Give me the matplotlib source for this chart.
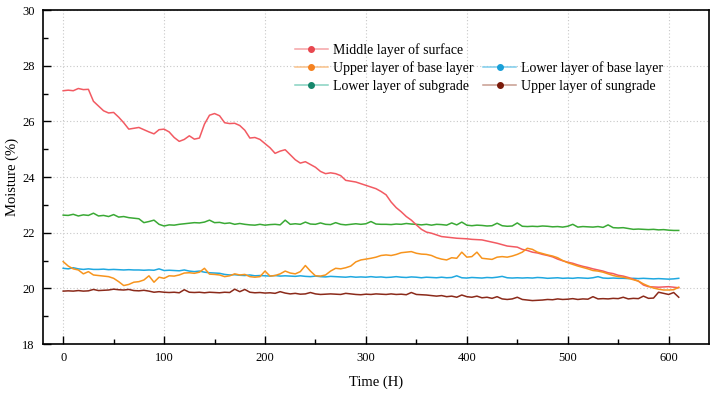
import matplotlib
matplotlib.use("Agg")
import matplotlib.pyplot as plt
from matplotlib.lines import Line2D
from matplotlib.ticker import MultipleLocator

plt.rcParams['font.family'] = ['Liberation Serif', 'DejaVu Serif']

# Time axis (hours), sampled every 5 h
time_h = list(range(0, 615, 5))

middle_surface = [
    27.10, 27.12, 27.10, 27.18, 27.14, 27.15, 26.72, 26.55, 26.38, 26.30,
    26.32, 26.15, 25.95, 25.72, 25.75, 25.78, 25.70, 25.62, 25.55, 25.70,
    25.72, 25.62, 25.42, 25.28, 25.35, 25.48, 25.36, 25.40, 25.90, 26.22,
    26.28, 26.20, 25.95, 25.92, 25.93, 25.85, 25.68, 25.40, 25.42, 25.35,
    25.20, 25.05, 24.85, 24.93, 24.98, 24.80, 24.62, 24.50, 24.55, 24.45,
    24.35, 24.20, 24.12, 24.15, 24.12, 24.05, 23.88, 23.85, 23.82, 23.76,
    23.70, 23.64, 23.58, 23.48, 23.36, 23.10, 22.90, 22.75, 22.58, 22.45,
    22.28, 22.12, 22.02, 21.98, 21.92, 21.86, 21.84, 21.82, 21.80, 21.79,
    21.78, 21.76, 21.75, 21.74, 21.70, 21.66, 21.62, 21.57, 21.52, 21.50,
    21.48, 21.40, 21.36, 21.30, 21.27, 21.22, 21.18, 21.13, 21.05, 20.99,
    20.94, 20.90, 20.84, 20.79, 20.75, 20.70, 20.66, 20.62, 20.56, 20.53,
    20.47, 20.44, 20.39, 20.33, 20.26, 20.12, 20.06, 20.05, 20.04, 20.05,
    20.06, 20.04, 20.02]

upper_base = [
    20.96, 20.80, 20.70, 20.66, 20.52, 20.60, 20.48, 20.46, 20.44, 20.42,
    20.36, 20.24, 20.10, 20.14, 20.22, 20.24, 20.30, 20.45, 20.22, 20.40,
    20.36, 20.45, 20.44, 20.48, 20.55, 20.56, 20.54, 20.58, 20.72, 20.51,
    20.50, 20.48, 20.42, 20.45, 20.52, 20.48, 20.50, 20.42, 20.40, 20.42,
    20.62, 20.44, 20.46, 20.52, 20.62, 20.55, 20.52, 20.60, 20.82, 20.62,
    20.45, 20.44, 20.48, 20.62, 20.72, 20.70, 20.74, 20.80, 20.95, 21.02,
    21.05, 21.08, 21.12, 21.18, 21.20, 21.18, 21.22, 21.28, 21.30, 21.32,
    21.26, 21.23, 21.22, 21.18, 21.10, 21.05, 21.02, 21.10, 21.08, 21.30,
    21.12, 21.14, 21.30, 21.08, 21.06, 21.04, 21.12, 21.14, 21.12, 21.16,
    21.22, 21.30, 21.44, 21.40, 21.30, 21.25, 21.20, 21.16, 21.10, 21.00,
    20.92, 20.86, 20.80, 20.75, 20.70, 20.64, 20.62, 20.58, 20.52, 20.46,
    20.42, 20.40, 20.36, 20.31, 20.26, 20.16, 20.08, 20.01, 19.97, 19.94,
    19.94, 19.95, 20.04]

lower_base = [
    20.72, 20.70, 20.74, 20.70, 20.68, 20.70, 20.68, 20.68, 20.69, 20.67,
    20.68, 20.67, 20.66, 20.67, 20.66, 20.66, 20.65, 20.66, 20.65, 20.70,
    20.64, 20.65, 20.64, 20.63, 20.66, 20.62, 20.60, 20.62, 20.58, 20.56,
    20.55, 20.54, 20.50, 20.48, 20.49, 20.47, 20.46, 20.48, 20.45, 20.46,
    20.45, 20.44, 20.46, 20.44, 20.45, 20.44, 20.43, 20.45, 20.43, 20.42,
    20.44, 20.42, 20.41, 20.43, 20.42, 20.41, 20.40, 20.42, 20.40, 20.41,
    20.40, 20.42, 20.40, 20.41, 20.39, 20.40, 20.42, 20.40, 20.39, 20.41,
    20.40, 20.38, 20.40, 20.39, 20.38, 20.40, 20.38, 20.39, 20.45, 20.38,
    20.37, 20.39, 20.38, 20.37, 20.39, 20.38, 20.40, 20.43, 20.38, 20.37,
    20.38, 20.37, 20.38, 20.37, 20.39, 20.38, 20.36, 20.37, 20.38, 20.36,
    20.37, 20.36, 20.38, 20.37, 20.36, 20.38, 20.42, 20.37, 20.36, 20.37,
    20.36, 20.36, 20.35, 20.36, 20.35, 20.36, 20.35, 20.34, 20.35, 20.34,
    20.33, 20.34, 20.36]

lower_subgrade = [
    22.63, 22.62, 22.66, 22.60, 22.64, 22.62, 22.70, 22.60, 22.62, 22.58,
    22.65, 22.56, 22.58, 22.54, 22.52, 22.50, 22.36, 22.40, 22.45, 22.30,
    22.24, 22.28, 22.27, 22.30, 22.32, 22.34, 22.36, 22.35, 22.38, 22.45,
    22.36, 22.37, 22.33, 22.35, 22.30, 22.33, 22.30, 22.28, 22.27, 22.30,
    22.27, 22.29, 22.30, 22.28, 22.45, 22.30, 22.32, 22.30, 22.38, 22.31,
    22.30, 22.35, 22.30, 22.29, 22.36, 22.30, 22.28, 22.30, 22.32, 22.30,
    22.32, 22.40, 22.31, 22.30, 22.30, 22.29, 22.31, 22.30, 22.33, 22.31,
    22.30, 22.28, 22.30, 22.27, 22.30, 22.29, 22.27, 22.35, 22.28, 22.38,
    22.27, 22.25, 22.27, 22.26, 22.24, 22.25, 22.34, 22.25, 22.23, 22.24,
    22.35, 22.23, 22.22, 22.23, 22.22, 22.24, 22.23, 22.21, 22.22, 22.20,
    22.23, 22.30, 22.20, 22.22, 22.21, 22.20, 22.22, 22.19, 22.28, 22.18,
    22.17, 22.18, 22.15, 22.12, 22.13, 22.12, 22.11, 22.12, 22.10, 22.11,
    22.09, 22.08, 22.08]

upper_subgrade = [
    19.90, 19.91, 19.90, 19.92, 19.90, 19.91, 19.96, 19.92, 19.93, 19.94,
    19.97, 19.95, 19.94, 19.96, 19.92, 19.91, 19.93, 19.90, 19.86, 19.88,
    19.86, 19.85, 19.86, 19.84, 19.95, 19.86, 19.85, 19.86, 19.84, 19.86,
    19.85, 19.84, 19.86, 19.85, 19.97, 19.88, 19.96, 19.86, 19.84, 19.85,
    19.83, 19.84, 19.82, 19.88, 19.83, 19.80, 19.82, 19.79, 19.80, 19.85,
    19.80, 19.78, 19.79, 19.80, 19.79, 19.78, 19.82, 19.80, 19.78, 19.77,
    19.79, 19.78, 19.80, 19.79, 19.78, 19.80, 19.78, 19.79, 19.77, 19.85,
    19.78, 19.77, 19.76, 19.74, 19.72, 19.74, 19.70, 19.72, 19.68, 19.76,
    19.70, 19.68, 19.72, 19.66, 19.68, 19.64, 19.70, 19.62, 19.60, 19.62,
    19.68, 19.60, 19.58, 19.56, 19.57, 19.58, 19.60, 19.59, 19.62, 19.60,
    19.61, 19.63, 19.60, 19.62, 19.61, 19.70, 19.62, 19.63, 19.62, 19.64,
    19.63, 19.68, 19.62, 19.64, 19.63, 19.72, 19.64, 19.65, 19.86, 19.82,
    19.78, 19.85, 19.68]

labels = ["Middle layer of surface", "Upper layer of base layer",
          "Lower layer of base layer", "Lower layer of subgrade",
          "Upper layer of sungrade"]
x_ticks = [0, 100, 200, 300, 400, 500, 600]
y_ticks = [18, 20, 22, 24, 26, 28, 30]

fig = plt.figure(figsize=(7.13, 3.94), dpi=100)
ax = fig.add_axes([0.0603, 0.1269, 0.9341, 0.8477])

ax.plot(time_h, lower_subgrade, color="#3aa935", lw=1.1)
ax.plot(time_h, upper_subgrade, color="#8b2a1a", lw=1.1)
ax.plot(time_h, lower_base, color="#1fa8e0", lw=1.1)
ax.plot(time_h, middle_surface, color="#f25a62", lw=1.1)
ax.plot(time_h, upper_base, color="#f7941d", lw=1.1)

ax.set_xlim(-20, 640)
ax.set_ylim(18, 30)
ax.set_xticks(x_ticks)
ax.set_yticks(y_ticks)
ax.xaxis.set_minor_locator(MultipleLocator(50))
ax.yaxis.set_minor_locator(MultipleLocator(1))
ax.tick_params(which='both', direction='in', top=False, right=False,
               labelsize=9, pad=6, width=1)
ax.tick_params(which='major', length=6)
ax.tick_params(which='minor', length=3.5)
ax.grid(True, which='major', color='#c8c8c8', linestyle=(0, (1, 2)), lw=0.8)
ax.set_axisbelow(True)
for s in ax.spines.values():
    s.set_linewidth(1.2)

ax.set_xlabel("Time (H)", fontsize=10.5, labelpad=8)
ax.set_ylabel("Moisture (%)", fontsize=10.5, labelpad=2)

def handle(line_c, mark_c):
    return Line2D([], [], color=line_c, lw=1.1, marker='o', markersize=4,
                  markerfacecolor=mark_c, markeredgecolor=mark_c)

h_mid = handle("#f5a3a6", "#e8474f")
h_ub = handle("#f9c189", "#f58220")
h_lb = handle("#7dcdec", "#1aa0d8")
h_ls = handle("#86d2c1", "#15876b")
h_us = handle("#c79c90", "#7a1a0a")
h_blank = Line2D([], [], color='none')

leg = ax.legend([h_mid, h_ub, h_ls, h_blank, h_lb, h_us],
                [labels[0], labels[1], labels[3], "", labels[2], labels[4]],
                ncol=2, loc='upper left', bbox_to_anchor=(0.378, 0.90),
                frameon=False, fontsize=10, handlelength=2.4,
                handletextpad=0.35, columnspacing=0.7, labelspacing=0.28,
                borderpad=0, borderaxespad=0)

fig.savefig("out.png", dpi=100)
